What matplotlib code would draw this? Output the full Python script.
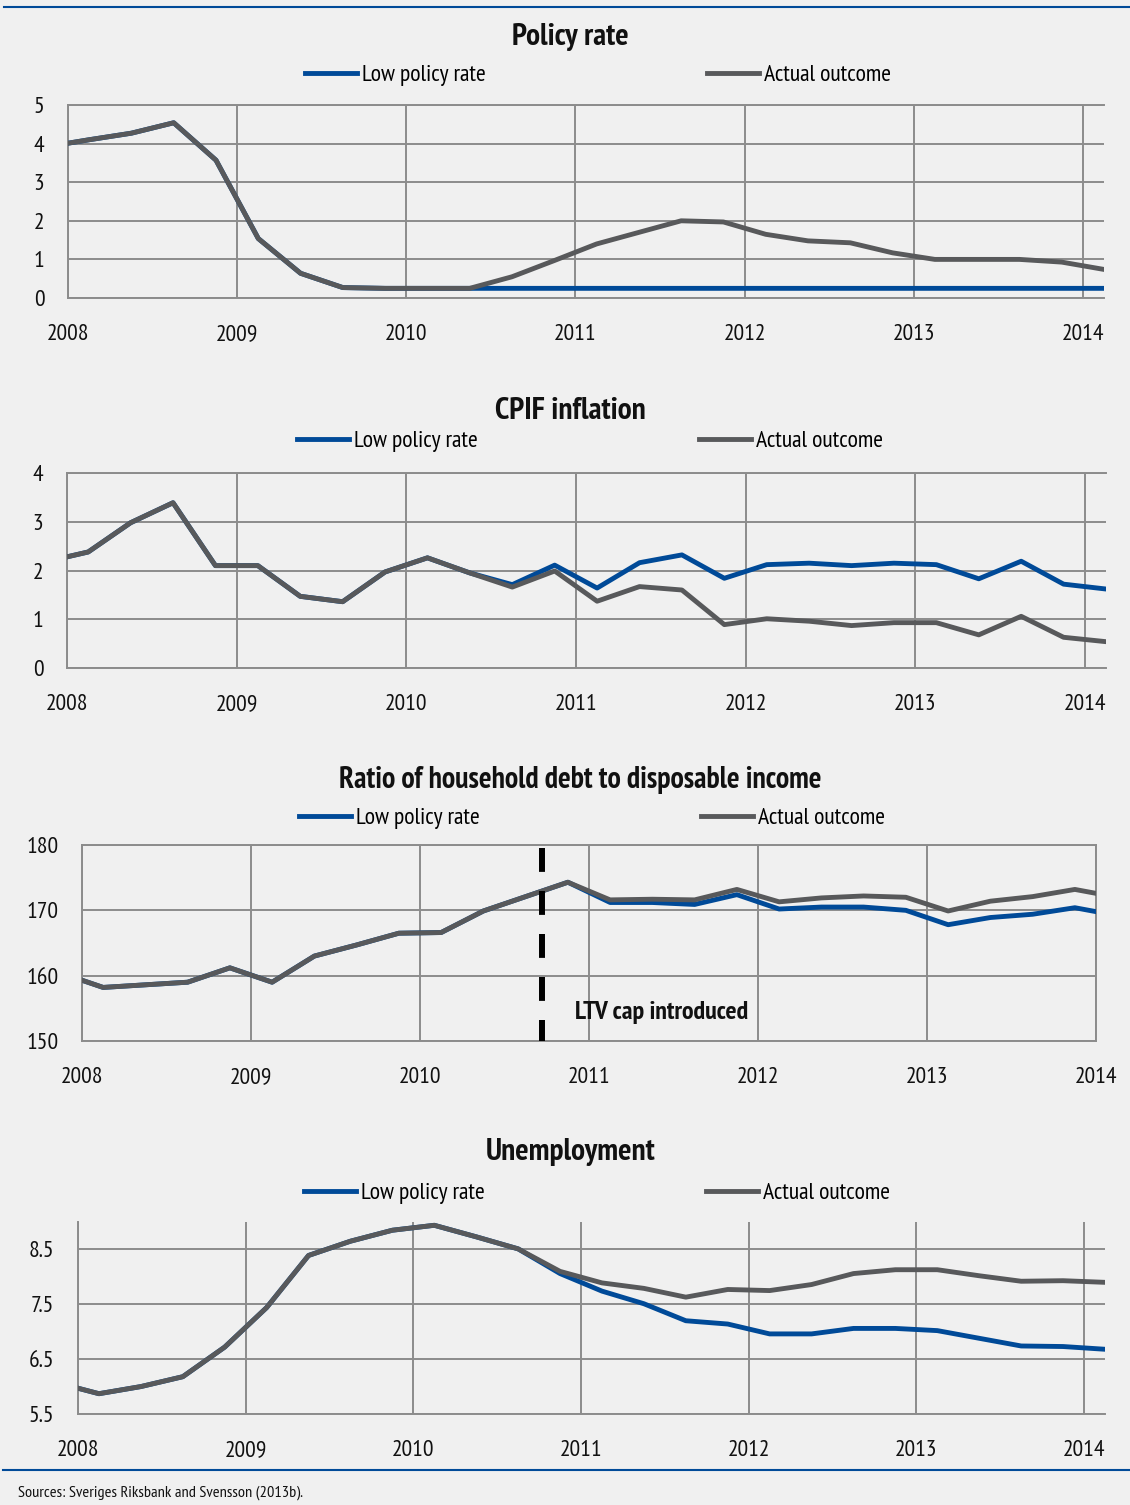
import matplotlib
matplotlib.use("Agg")
import matplotlib.pyplot as plt
from matplotlib.lines import Line2D

plt.rcParams['font.family'] = ['PT Sans Narrow', 'DejaVu Sans']

BG = '#f0f0f0'
BLUE = '#004a98'
GRAY = '#58595b'
GRID = '#8c8c8c'

# quarterly observations, plotted at mid-quarter
quarters = ['2007Q4',
            '2008Q1', '2008Q2', '2008Q3', '2008Q4',
            '2009Q1', '2009Q2', '2009Q3', '2009Q4',
            '2010Q1', '2010Q2', '2010Q3', '2010Q4',
            '2011Q1', '2011Q2', '2011Q3', '2011Q4',
            '2012Q1', '2012Q2', '2012Q3', '2012Q4',
            '2013Q1', '2013Q2', '2013Q3', '2013Q4',
            '2014Q1']
t = [int(q[:4]) + (int(q[5]) - 0.5) / 4 for q in quarters]

series_names = ['Low policy rate', 'Actual outcome']

policy_actual = [3.92, 4.10, 4.27, 4.54, 3.57, 1.54, 0.64, 0.27, 0.25, 0.25, 0.25, 0.55, 0.97,
                 1.40, 1.70, 2.00, 1.97, 1.65, 1.48, 1.43, 1.17, 1.00, 1.00, 1.00, 0.93, 0.74]
policy_low = [3.92, 4.10, 4.27, 4.54, 3.57, 1.54, 0.64, 0.27, 0.25, 0.25, 0.25, 0.25, 0.25,
              0.25, 0.25, 0.25, 0.25, 0.25, 0.25, 0.25, 0.25, 0.25, 0.25, 0.25, 0.25, 0.25]

cpif_actual = [2.18, 2.38, 2.98, 3.39, 2.10, 2.10, 1.47, 1.36, 1.97, 2.26, 1.95, 1.66, 1.99,
               1.37, 1.67, 1.60, 0.89, 1.01, 0.96, 0.87, 0.93, 0.93, 0.68, 1.06, 0.63, 0.54]
cpif_low = [2.18, 2.38, 2.98, 3.39, 2.10, 2.10, 1.47, 1.36, 1.97, 2.26, 1.95, 1.71, 2.11,
            1.64, 2.16, 2.32, 1.84, 2.12, 2.15, 2.10, 2.15, 2.12, 1.83, 2.19, 1.72, 1.62]

debt_actual = [160.4, 158.2, 158.6, 159.0, 161.2, 159.0, 163.0, 164.7, 166.5, 166.6, 169.9, 172.1, 174.3,
               171.6, 171.7, 171.6, 173.2, 171.3, 171.9, 172.2, 172.0, 169.9, 171.4, 172.1, 173.2, 172.0]
debt_low = [160.4, 158.2, 158.6, 159.0, 161.2, 159.0, 163.0, 164.7, 166.5, 166.6, 169.9, 172.1, 174.3,
            171.2, 171.2, 170.9, 172.4, 170.2, 170.5, 170.5, 170.0, 167.8, 168.9, 169.4, 170.4, 169.2]

unemp_actual = [6.07, 5.87, 6.00, 6.18, 6.72, 7.44, 8.39, 8.65, 8.85, 8.94, 8.73, 8.51, 8.10,
                7.89, 7.79, 7.63, 7.77, 7.75, 7.86, 8.06, 8.13, 8.13, 8.02, 7.92, 7.93, 7.90]
unemp_low = [6.07, 5.87, 6.00, 6.18, 6.72, 7.44, 8.39, 8.65, 8.85, 8.94, 8.73, 8.51, 8.06,
             7.74, 7.51, 7.20, 7.14, 6.96, 6.96, 7.06, 7.06, 7.02, 6.88, 6.74, 6.73, 6.68]

years = [2008, 2009, 2010, 2011, 2012, 2013, 2014]
ltv_date = 2010.72

W, H = 1130, 1505
fig = plt.figure(figsize=(W / 100, H / 100), dpi=100, facecolor=BG)

panels = [
    dict(title='Policy rate', box=(68, 105, 1104, 298), low=policy_low, actual=policy_actual,
         ylim=(0, 5), yticks=[0, 1, 2, 3, 4, 5], xmax=2014.125, fmt='{:.0f}',
         title_xy=(570, 37), title_size=22.5, leg=(598, 75), top=True, right=False),
    dict(title='CPIF inflation', box=(67, 473, 1106, 668), low=cpif_low, actual=cpif_actual,
         ylim=(0, 4), yticks=[0, 1, 2, 3, 4], xmax=2014.125, fmt='{:.0f}',
         title_xy=(570, 411), title_size=22.5, leg=(590, 441), top=True, right=False),
    dict(title='Ratio of household debt to disposable income', box=(82, 845, 1096, 1041),
         low=debt_low, actual=debt_actual,
         ylim=(150, 180), yticks=[150, 160, 170, 180], xmax=2014.0, fmt='{:.0f}',
         title_xy=(580, 780), title_size=21.5, leg=(592, 818), top=True, right=True),
    dict(title='Unemployment', box=(78, 1222, 1105, 1414), low=unemp_low, actual=unemp_actual,
         ylim=(5.5, 9.0), yticks=[5.5, 6.5, 7.5, 8.5], xmax=2014.125, fmt='{:.1f}',
         title_xy=(571, 1152), title_size=22.5, leg=(597, 1193), top=False, right=False),
]

axes = []
for p in panels:
    l, tp, r, b = p['box']
    ax = fig.add_axes([l / W, 1 - b / H, (r - l) / W, (b - tp) / H])
    ax.set_facecolor(BG)
    h1, = ax.plot(t, p['low'], color=BLUE, lw=3.5, label=series_names[0], zorder=3)
    h2, = ax.plot(t, p['actual'], color=GRAY, lw=3.5, label=series_names[1], zorder=4)
    ax.set_xlim(2008, p['xmax'])
    ax.set_ylim(*p['ylim'])
    ax.set_xticks(years)
    ax.set_xticklabels([str(y) for y in years])
    ax.set_yticks(p['yticks'])
    ax.set_yticklabels([p['fmt'].format(v) for v in p['yticks']])
    ax.grid(True, color=GRID, lw=1.4)
    ax.set_axisbelow(True)
    ax.tick_params(length=0, labelsize=17, colors='#111111')
    ax.tick_params(axis='x', pad=18.5)
    ax.tick_params(axis='y', pad=17)
    for side, sp in ax.spines.items():
        sp.set_color(GRID)
        sp.set_linewidth(1.4)
    ax.spines['top'].set_visible(p['top'])
    ax.spines['right'].set_visible(p['right'])

    tx, ty = p['title_xy']
    fig.text(tx / W, 1 - ty / H, p['title'], ha='center', va='center',
             fontsize=p['title_size'], fontweight='bold', color='#111111')
    fig.legend([h1, h2], series_names, loc='center',
               bbox_to_anchor=(p['leg'][0] / W, 1 - p['leg'][1] / H),
               ncol=2, frameon=False, fontsize=17, handlelength=2.2,
               handletextpad=0.2, columnspacing=9.4)
    axes.append(ax)

# LTV cap marker in the debt panel
ax3 = axes[2]
ax3.axvline(ltv_date, ymin=0.985, ymax=0.0, color='black', lw=4.3,
            dashes=(4.0, 3.2), zorder=5)
ax3.text(2010.92, 154.4, 'LTV cap introduced', fontsize=18.7, fontweight='bold',
         va='center', ha='left', color='#111111')

# rules at top and bottom
fig.add_artist(Line2D([4 / W, 1.0], [1 - 7 / H, 1 - 7 / H], color=BLUE, lw=1.5,
                      transform=fig.transFigure))
fig.add_artist(Line2D([3 / W, 1.0], [1 - 1470 / H, 1 - 1470 / H], color=BLUE, lw=1.5,
                      transform=fig.transFigure))
fig.text(18 / W, 1 - 1493 / H, 'Sources: Sveriges Riksbank and Svensson (2013b).',
         fontsize=11.8, va='center', ha='left', color='#111111')

fig.savefig('out.png', dpi=100, facecolor=BG)
